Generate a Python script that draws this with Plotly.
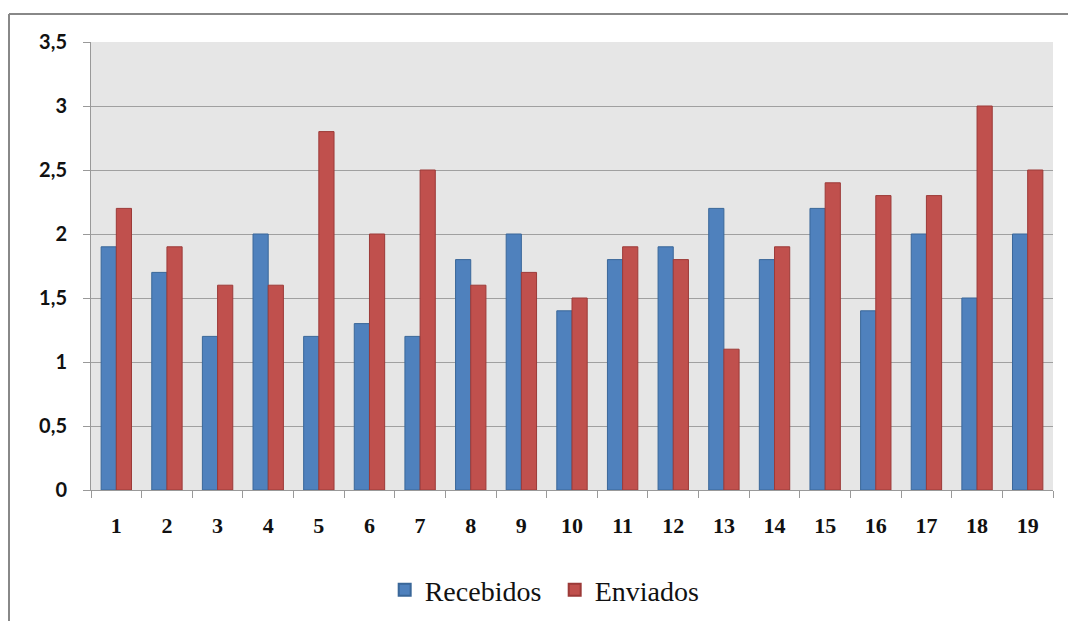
import plotly.graph_objects as go

categories = [str(i) for i in range(1, 20)]
recebidos = [1.9, 1.7, 1.2, 2.0, 1.2, 1.3, 1.2, 1.8, 2.0, 1.4, 1.8, 1.9, 2.2, 1.8, 2.2, 1.4, 2.0, 1.5, 2.0]
enviados = [2.2, 1.9, 1.6, 1.6, 2.8, 2.0, 2.5, 1.6, 1.7, 1.5, 1.9, 1.8, 1.1, 1.9, 2.4, 2.3, 2.3, 3.0, 2.5]
y_ticks = [0, 0.5, 1, 1.5, 2, 2.5, 3, 3.5]
y_tick_labels = ["0", "0,5", "1", "1,5", "2", "2,5", "3", "3,5"]

W, H = 1068, 621
ML, MR, MT, MB = 91, 15, 42, 131
pw, ph = W - ML - MR, H - MT - MB

fig = go.Figure()
fig.add_trace(go.Bar(
    x=categories, y=recebidos, name="Recebidos",
    marker=dict(color="#4F81BD", line=dict(color="#3A6799", width=1)),
))
fig.add_trace(go.Bar(
    x=categories, y=enviados, name="Enviados",
    marker=dict(color="#C0504D", line=dict(color="#9C3A38", width=1)),
))

def px_x(p):
    return (p - ML) / pw

def px_y(p):
    return (H - MB - p) / ph

# outer frame (top and left edges)
fig.add_shape(type="line", xref="paper", yref="paper",
              x0=px_x(9), x1=px_x(1068), y0=px_y(14), y1=px_y(14),
              line=dict(color="#888888", width=2))
fig.add_shape(type="line", xref="paper", yref="paper",
              x0=px_x(9), x1=px_x(9), y0=px_y(14), y1=px_y(621),
              line=dict(color="#888888", width=2))

fig.update_layout(
    width=W, height=H,
    margin=dict(l=ML, r=MR, t=MT, b=MB, pad=0, autoexpand=False),
    paper_bgcolor="white",
    plot_bgcolor="#E6E6E6",
    barmode="group",
    bargap=0.4,
    bargroupgap=0,
    showlegend=True,
    legend=dict(
        orientation="h",
        x=0.482, xanchor="center",
        y=px_y(590), yanchor="middle",
        font=dict(family="Liberation Serif", size=28, color="#111111"),
        itemsizing="constant",
        entrywidth=125, entrywidthmode="pixels",
        bgcolor="rgba(0,0,0,0)",
    ),
    xaxis=dict(
        type="category",
        automargin=False,
        showgrid=False,
        showline=True, linecolor="#999999", linewidth=1,
        ticks="outside", ticklen=7, tickcolor="#999999", tickson="boundaries",
        tickfont=dict(family="Liberation Serif", size=22, color="#111111", weight="bold"),
        ticklabelstandoff=16,
    ),
    yaxis=dict(
        range=[0, 3.5],
        automargin=False,
        tickvals=y_ticks, ticktext=y_tick_labels,
        showgrid=True, gridcolor="#A0A0A0", gridwidth=1,
        showline=True, linecolor="#999999", linewidth=1,
        ticks="outside", ticklen=7, tickcolor="#999999",
        tickfont=dict(family="Lato", size=20, color="#111111", weight="bold"),
        ticklabelstandoff=12,
        zeroline=False,
    ),
)

fig.write_html("out.html")
